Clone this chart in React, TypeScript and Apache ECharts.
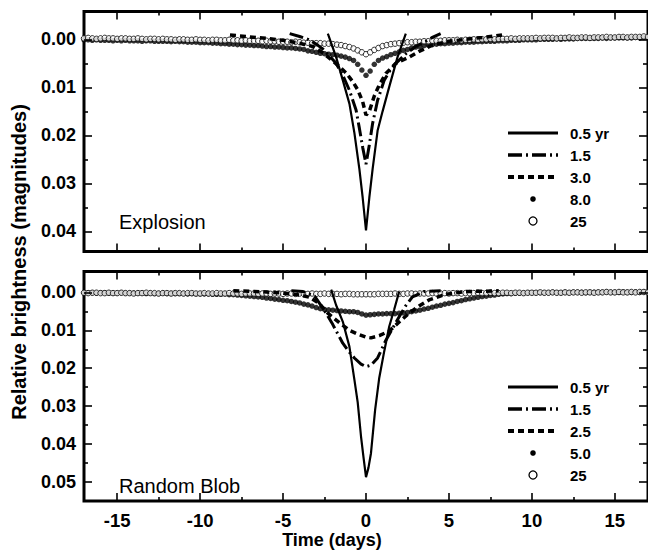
import React, { useEffect, useRef } from "react";
import * as echarts from "echarts";

// ---------- data ----------
const DAYS = [
  -17, -16.75, -16.5, -16.25, -16, -15.75, -15.5, -15.25,
  -15, -14.75, -14.5, -14.25, -14, -13.75, -13.5, -13.25,
  -13, -12.75, -12.5, -12.25, -12, -11.75, -11.5, -11.25,
  -11, -10.75, -10.5, -10.25, -10, -9.75, -9.5, -9.25,
  -9, -8.75, -8.5, -8.25, -8, -7.75, -7.5, -7.25,
  -7, -6.75, -6.5, -6.25, -6, -5.75, -5.5, -5.25,
  -5, -4.75, -4.5, -4.25, -4, -3.75, -3.5, -3.25,
  -3, -2.75, -2.5, -2.25, -2, -1.75, -1.5, -1.25,
  -1, -0.75, -0.5, -0.25, 0, 0.25, 0.5, 0.75,
  1, 1.25, 1.5, 1.75, 2, 2.25, 2.5, 2.75,
  3, 3.25, 3.5, 3.75, 4, 4.25, 4.5, 4.75,
  5, 5.25, 5.5, 5.75, 6, 6.25, 6.5, 6.75,
  7, 7.25, 7.5, 7.75, 8, 8.25, 8.5, 8.75,
  9, 9.25, 9.5, 9.75, 10, 10.25, 10.5, 10.75,
  11, 11.25, 11.5, 11.75, 12, 12.25, 12.5, 12.75,
  13, 13.25, 13.5, 13.75, 14, 14.25, 14.5, 14.75,
  15, 15.25, 15.5, 15.75, 16, 16.25, 16.5, 16.75,
  17,
];

// Explosion panel
const TOP_C25 = [
  -0.0002, -0.0003, -0.0002, -0.0001, -0.0002, -0.0003, -0.0002, -0.0002,
  -0.0001, -0.0002, -0.0002, -0.0001, -0.0001, -0.0002, -0.0001, 0.0,
  -0.0001, -0.0001, 0.0, -0.0001, 0.0, 0.0, 0.0001, 0.0,
  0.0, 0.0001, 0.0001, 0.0, 0.0001, 0.0001, 0.0002, 0.0001,
  0.0001, 0.0002, 0.0002, 0.0001, 0.0002, 0.0002, 0.0003, 0.0002,
  0.0003, 0.0003, 0.0003, 0.0004, 0.0003, 0.0004, 0.0004, 0.0005,
  0.0005, 0.0005, 0.0006, 0.0005, 0.0006, 0.0007, 0.0007, 0.0008,
  0.0008, 0.0008, 0.0009, 0.0009, 0.001, 0.0011, 0.0012, 0.0014,
  0.0016, 0.0019, 0.0023, 0.0027, 0.0031, 0.0027, 0.0022, 0.0018,
  0.0014, 0.0012, 0.001, 0.0009, 0.0008, 0.0007, 0.0006, 0.0006,
  0.0005, 0.0005, 0.0004, 0.0004, 0.0003, 0.0003, 0.0003, 0.0002,
  0.0002, 0.0002, 0.0001, 0.0002, 0.0001, 0.0001, 0.0, 0.0001,
  0.0, 0.0, -0.0001, 0.0, -0.0001, -0.0001, -0.0001, -0.0002,
  -0.0001, -0.0002, -0.0002, -0.0002, -0.0002, -0.0003, -0.0002, -0.0003,
  -0.0003, -0.0003, -0.0002, -0.0003, -0.0003, -0.0004, -0.0003, -0.0003,
  -0.0004, -0.0004, -0.0003, -0.0004, -0.0004, -0.0004, -0.0005, -0.0004,
  -0.0004, -0.0005, -0.0005, -0.0004, -0.0005, -0.0005, -0.0005, -0.0006,
  -0.0005,
];
const TOP_D8 = [
  0.0001, 0.0001, 0.0002, 0.0001, 0.0002, 0.0002, 0.0002, 0.0003,
  0.0002, 0.0003, 0.0002, 0.0003, 0.0003, 0.0003, 0.0004, 0.0003,
  0.0003, 0.0004, 0.0004, 0.0004, 0.0004, 0.0005, 0.0004, 0.0005,
  0.0005, 0.0006, 0.0006, 0.0006, 0.0007, 0.0007, 0.0007, 0.0008,
  0.0008, 0.0009, 0.0009, 0.001, 0.001, 0.0011, 0.0011, 0.0012,
  0.0012, 0.0013, 0.0013, 0.0014, 0.0015, 0.0015, 0.0016, 0.0016,
  0.0017, 0.0018, 0.0018, 0.0019, 0.002, 0.0021, 0.0024, 0.0025,
  0.0027, 0.0029, 0.003, 0.0031, 0.0032, 0.0033, 0.0035, 0.0037,
  0.004, 0.0044, 0.0052, 0.0064, 0.0075, 0.0066, 0.0052, 0.0044,
  0.0039, 0.0036, 0.0032, 0.0029, 0.0026, 0.0023, 0.0021, 0.0018,
  0.0016, 0.0015, 0.0013, 0.0012, 0.0011, 0.001, 0.0009, 0.0009,
  0.0008, 0.0008, 0.0007, 0.0007, 0.0006, 0.0006, 0.0006, 0.0005,
  0.0005, 0.0004, 0.0004, 0.0004, 0.0003, 0.0003, 0.0003, 0.0002,
  0.0002, 0.0002, 0.0001, 0.0001, 0.0001, 0.0001, 0.0, 0.0,
  0.0, 0.0, -0.0001, 0.0, -0.0001, -0.0001, -0.0001, -0.0002,
  -0.0002, -0.0002, -0.0002, -0.0002, -0.0002, -0.0003, -0.0002, -0.0003,
  -0.0003, -0.0003, -0.0003, -0.0003, -0.0003, -0.0004, -0.0003, -0.0004,
  -0.0004,
];
const TOP_S05_T = [-2.3, -1.8, -1.4, -1.0, -0.7, -0.4, -0.2, 0, 0.2, 0.4, 0.7, 1.0, 1.4, 1.9, 2.4];
const TOP_S05 = [-0.0012, 0.0037, 0.0085, 0.0134, 0.0195, 0.027, 0.033, 0.0398, 0.033, 0.027, 0.019, 0.015, 0.0099, 0.0037, -0.0012];
const TOP_DD15_T = [-4.6, -4.0, -3.5, -3.0, -2.6, -2.2, -1.8, -1.4, -1.0, -0.6, -0.4, -0.2, 0, 0.2, 0.4, 0.7, 1.1, 1.5, 1.8, 2.4, 3.0, 3.6, 4.0, 4.5];
const TOP_DD15 = [-0.0012, -0.0006, 0.0, 0.001, 0.002, 0.0035, 0.005, 0.0075, 0.0106, 0.0147, 0.0185, 0.0225, 0.026, 0.022, 0.0175, 0.0127, 0.0085, 0.0062, 0.005, 0.003, 0.0015, 0.0004, -0.0004, -0.0012];
const TOP_DA30_T = [-8.2, -7, -6, -5, -4, -3.2, -2.6, -2.0, -1.6, -1.2, -0.8, -0.5, -0.2, 0, 0.2, 0.5, 0.8, 1.2, 1.8, 2.6, 3.2, 4, 5, 6, 7, 8.2];
const TOP_DA30 = [-0.0009, -0.0005, -0.0002, 0.0002, 0.0008, 0.0015, 0.0028, 0.0045, 0.0057, 0.007, 0.0088, 0.0105, 0.013, 0.0158, 0.015, 0.0118, 0.0095, 0.0071, 0.005, 0.0037, 0.0025, 0.0012, 0.0004, 0.0, -0.0004, -0.0009];

// Random Blob panel
const BOT_C25 = [
  0.0001, 0.0002, 0.0001, 0.0001, 0.0002, 0.0002, 0.0001, 0.0002,
  0.0002, 0.0001, 0.0002, 0.0002, 0.0003, 0.0002, 0.0002, 0.0001,
  0.0002, 0.0002, 0.0003, 0.0002, 0.0002, 0.0003, 0.0002, 0.0002,
  0.0003, 0.0002, 0.0002, 0.0003, 0.0003, 0.0002, 0.0003, 0.0003,
  0.0002, 0.0003, 0.0003, 0.0002, 0.0003, 0.0003, 0.0004, 0.0003,
  0.0003, 0.0003, 0.0004, 0.0003, 0.0003, 0.0004, 0.0003, 0.0003,
  0.0004, 0.0003, 0.0003, 0.0004, 0.0003, 0.0004, 0.0004, 0.0003,
  0.0004, 0.0004, 0.0003, 0.0004, 0.0004, 0.0004, 0.0005, 0.0004,
  0.0004, 0.0005, 0.0005, 0.0005, 0.0005, 0.0005, 0.0005, 0.0004,
  0.0004, 0.0004, 0.0004, 0.0003, 0.0004, 0.0004, 0.0003, 0.0003,
  0.0004, 0.0003, 0.0003, 0.0003, 0.0002, 0.0003, 0.0003, 0.0002,
  0.0003, 0.0002, 0.0002, 0.0003, 0.0002, 0.0002, 0.0002, 0.0001,
  0.0002, 0.0002, 0.0001, 0.0002, 0.0002, 0.0001, 0.0001, 0.0002,
  0.0001, 0.0001, 0.0002, 0.0001, 0.0001, 0.0001, 0.0, 0.0001,
  0.0001, 0.0, 0.0001, 0.0001, 0.0, 0.0001, 0.0, 0.0,
  0.0001, 0.0, 0.0, 0.0001, 0.0, 0.0, -0.0001, 0.0,
  0.0, -0.0001, 0.0, 0.0, -0.0001, 0.0, -0.0001, -0.0001,
  0.0,
];
const BOT_D5 = [
  0.0001, 0.0001, 0.0001, 0.0002, 0.0001, 0.0001, 0.0002, 0.0002,
  0.0002, 0.0001, 0.0002, 0.0002, 0.0002, 0.0002, 0.0002, 0.0003,
  0.0002, 0.0003, 0.0003, 0.0002, 0.0003, 0.0003, 0.0003, 0.0003,
  0.0003, 0.0004, 0.0003, 0.0004, 0.0004, 0.0004, 0.0004, 0.0005,
  0.0005, 0.0005, 0.0004, 0.0006, 0.0006, 0.0007, 0.0008, 0.0009,
  0.001, 0.0011, 0.0012, 0.0013, 0.0015, 0.0016, 0.0018, 0.0019,
  0.0021, 0.0022, 0.0024, 0.0026, 0.0028, 0.0031, 0.0033, 0.0036,
  0.004, 0.0043, 0.0045, 0.0046, 0.0047, 0.0048, 0.0049, 0.005,
  0.0051, 0.0051, 0.0053, 0.0057, 0.006, 0.0059, 0.0058, 0.0057,
  0.0057, 0.0056, 0.0056, 0.0056, 0.0055, 0.0054, 0.0053, 0.0051,
  0.0049, 0.0047, 0.0044, 0.0042, 0.0039, 0.0036, 0.0034, 0.0031,
  0.0029, 0.0027, 0.0024, 0.0022, 0.0019, 0.0017, 0.0015, 0.0013,
  0.0011, 0.001, 0.0008, 0.0007, 0.0005, 0.0004, 0.0003, 0.0003,
  0.0002, 0.0002, 0.0002, 0.0001, 0.0001, 0.0001, 0.0001, 0.0001,
  0.0001, 0.0, 0.0001, 0.0001, 0.0, 0.0001, 0.0, 0.0,
  0.0, 0.0001, 0.0, 0.0, 0.0, 0.0, -0.0001, 0.0,
  0.0, 0.0, -0.0001, 0.0, 0.0, -0.0001, 0.0, -0.0001,
  0.0,
];
const BOT_S05_T = [-2.1, -1.8, -1.4, -1.0, -0.7, -0.5, -0.3, -0.15, 0, 0.15, 0.3, 0.55, 0.8, 1.1, 1.4, 1.7, 2.0];
const BOT_S05 = [-0.0007, 0.0034, 0.0077, 0.0143, 0.023, 0.029, 0.038, 0.0435, 0.0487, 0.0462, 0.0424, 0.031, 0.0225, 0.0155, 0.009, 0.0045, -0.0002];
const BOT_DD15_T = [-4.5, -3.8, -3.1, -2.5, -2.0, -1.4, -1.0, -0.7, -0.3, 0, 0.3, 0.7, 1.2, 1.6, 2.0, 2.4, 2.8, 3.5, 4.5];
const BOT_DD15 = [-0.0004, -0.0002, 0.001, 0.0048, 0.0085, 0.0134, 0.0158, 0.0173, 0.0189, 0.0196, 0.0192, 0.0173, 0.0126, 0.0095, 0.0064, 0.0035, 0.0012, -0.0002, -0.0004];
const BOT_DA25_T = [-8, -7, -6, -5, -4, -3.4, -2.8, -2.3, -1.6, -1.0, -0.5, 0, 0.3, 0.8, 1.4, 2.0, 2.6, 3.2, 3.8, 4.8, 6, 7, 8];
const BOT_DA25 = [-0.0004, -0.0003, -0.0001, 0.0002, 0.0007, 0.0013, 0.003, 0.0055, 0.008, 0.01, 0.011, 0.0118, 0.012, 0.0114, 0.0102, 0.0078, 0.0055, 0.0036, 0.002, 0.0005, -0.0002, -0.0003, -0.0004];

// ticks / labels
const X_MAJOR = [-15, -10, -5, 0, 5, 10, 15];
const X_MINOR = [-12.5, -7.5, -2.5, 2.5, 7.5, 12.5];
const TOP_Y_MAJOR = [0, 0.01, 0.02, 0.03, 0.04];
const TOP_Y_MINOR = [0.005, 0.015, 0.025, 0.035];
const BOT_Y_MAJOR = [0, 0.01, 0.02, 0.03, 0.04, 0.05];
const BOT_Y_MINOR = [0.005, 0.015, 0.025, 0.035, 0.045];
const TOP_LEGEND = ["0.5 yr", "1.5", "3.0", "8.0", "25"];
const BOT_LEGEND = ["0.5 yr", "1.5", "2.5", "5.0", "25"];
const TOP_TITLE = "Explosion";
const BOT_TITLE = "Random Blob";
const X_TITLE = "Time (days)";
const Y_TITLE = "Relative brightness (magnitudes)";

const FONT = '"Liberation Sans", Arial, Helvetica, sans-serif';

const pairs = (xs: number[], ys: number[]) => xs.map((x, i) => [x, ys[i]]);

function xAx(grid: number, pos: string, ticks: number[], len: number, labels: boolean) {
  return {
    type: "value",
    gridIndex: grid,
    position: pos,
    min: -17,
    max: 17,
    z: 10,
    axisLine: { show: false, onZero: false },
    splitLine: { show: false },
    axisTick: { show: true, inside: true, length: len, customValues: ticks, lineStyle: { color: "#000", width: 1.6 } },
    axisLabel: labels
      ? { show: true, customValues: ticks, margin: 10, color: "#000", fontSize: 18.5, fontWeight: "bold", fontFamily: FONT, formatter: (v: number) => String(v) }
      : { show: false },
  };
}

function yAx(grid: number, pos: string, min: number, max: number, ticks: number[], len: number, labels: boolean) {
  return {
    type: "value",
    gridIndex: grid,
    position: pos,
    inverse: true,
    min,
    max,
    z: 10,
    axisLine: { show: false, onZero: false },
    splitLine: { show: false },
    axisTick: { show: true, inside: true, length: len, customValues: ticks, lineStyle: { color: "#000", width: 1.6 } },
    axisLabel: labels
      ? { show: true, customValues: ticks, margin: 8, color: "#000", fontSize: 18, fontWeight: "bold", fontFamily: FONT, formatter: (v: number) => v.toFixed(2) }
      : { show: false },
  };
}

function panelSeries(xi: number, yi: number, c25: number[], dots: number[], s05t: number[], s05: number[], ddt: number[], dd: number[], dat: number[], da: number[]) {
  return [
    {
      type: "scatter", xAxisIndex: xi, yAxisIndex: yi, z: 2,
      symbol: "circle", symbolSize: 5.5, itemStyle: { color: "#000" },
      data: pairs(DAYS, dots),
    },
    {
      type: "scatter", xAxisIndex: xi, yAxisIndex: yi, z: 3,
      symbol: "circle", symbolSize: 5.5, itemStyle: { color: "#fff", borderColor: "#000", borderWidth: 1 },
      data: pairs(DAYS, c25),
    },
    {
      type: "line", xAxisIndex: xi, yAxisIndex: yi, z: 4, showSymbol: false,
      lineStyle: { color: "#000", width: 3.5, type: [6, 4] },
      data: pairs(dat, da),
    },
    {
      type: "line", xAxisIndex: xi, yAxisIndex: yi, z: 5, showSymbol: false,
      lineStyle: { color: "#000", width: 3, type: [14, 4, 2, 4] },
      data: pairs(ddt, dd),
    },
    {
      type: "line", xAxisIndex: xi, yAxisIndex: yi, z: 6, showSymbol: false,
      lineStyle: { color: "#000", width: 2.2 },
      data: pairs(s05t, s05),
    },
  ];
}

function legendEls(ys: number[], labels: string[]) {
  const els: any[] = [];
  const x1 = 508, x2 = 558, xc = 533, tx = 570;
  els.push({ type: "line", shape: { x1, y1: ys[0], x2, y2: ys[0] }, style: { stroke: "#000", lineWidth: 2.8 } });
  els.push({ type: "line", shape: { x1, y1: ys[1], x2, y2: ys[1] }, style: { stroke: "#000", lineWidth: 3.5, lineDash: [14, 4, 2, 4] } });
  els.push({ type: "line", shape: { x1, y1: ys[2], x2, y2: ys[2] }, style: { stroke: "#000", lineWidth: 3.8, lineDash: [6, 4] } });
  els.push({ type: "circle", shape: { cx: xc, cy: ys[3], r: 2.8 }, style: { fill: "#000" } });
  els.push({ type: "circle", shape: { cx: xc, cy: ys[4], r: 4 }, style: { fill: "#fff", stroke: "#000", lineWidth: 1.3 } });
  labels.forEach((t, i) => {
    els.push({
      type: "text", x: tx, y: ys[i],
      style: { text: t, fill: "#000", fontSize: 15, fontWeight: "bold", fontFamily: FONT, textVerticalAlign: "middle" },
    });
  });
  return els;
}

export default function App() {
  const ref = useRef<HTMLDivElement>(null);
  useEffect(() => {
    if (!ref.current) return;
    const chart = echarts.init(ref.current, null, { renderer: "svg" });
    const TOP_MIN = -0.0058, TOP_MAX = 0.0442;
    const BOT_MIN = -0.0055, BOT_MAX = 0.055;
    const option: any = {
      animation: false,
      backgroundColor: "#fff",
      grid: [
        { left: 84, right: -2, top: 11.5, height: 240, show: true, borderWidth: 3, borderColor: "#000", backgroundColor: "transparent" },
        { left: 84, right: -2, top: 271.5, height: 229.5, show: true, borderWidth: 3, borderColor: "#000", backgroundColor: "transparent" },
      ],
      xAxis: [
        xAx(0, "bottom", X_MAJOR, 8, false),
        xAx(0, "bottom", X_MINOR, 4, false),
        xAx(0, "top", X_MAJOR, 8, false),
        xAx(0, "top", X_MINOR, 4, false),
        xAx(1, "bottom", X_MAJOR, 8, true),
        xAx(1, "bottom", X_MINOR, 4, false),
        xAx(1, "top", X_MAJOR, 8, false),
        xAx(1, "top", X_MINOR, 4, false),
      ],
      yAxis: [
        yAx(0, "left", TOP_MIN, TOP_MAX, TOP_Y_MAJOR, 8, true),
        yAx(0, "left", TOP_MIN, TOP_MAX, TOP_Y_MINOR, 4, false),
        yAx(0, "right", TOP_MIN, TOP_MAX, TOP_Y_MAJOR, 9, false),
        yAx(0, "right", TOP_MIN, TOP_MAX, TOP_Y_MINOR, 5, false),
        yAx(1, "left", BOT_MIN, BOT_MAX, BOT_Y_MAJOR, 8, true),
        yAx(1, "left", BOT_MIN, BOT_MAX, BOT_Y_MINOR, 4, false),
        yAx(1, "right", BOT_MIN, BOT_MAX, BOT_Y_MAJOR, 9, false),
        yAx(1, "right", BOT_MIN, BOT_MAX, BOT_Y_MINOR, 5, false),
      ],
      series: [
        ...panelSeries(0, 0, TOP_C25, TOP_D8, TOP_S05_T, TOP_S05, TOP_DD15_T, TOP_DD15, TOP_DA30_T, TOP_DA30),
        ...panelSeries(4, 4, BOT_C25, BOT_D5, BOT_S05_T, BOT_S05, BOT_DD15_T, BOT_DD15, BOT_DA25_T, BOT_DA25),
      ],
      graphic: [
        ...legendEls([133, 155, 177, 199, 221], TOP_LEGEND),
        ...legendEls([387, 409, 431, 453, 475], BOT_LEGEND),
        {
          type: "text", x: 119, y: 222,
          style: { text: TOP_TITLE, fill: "#000", fontSize: 20, fontFamily: FONT, textVerticalAlign: "middle" },
        },
        {
          type: "text", x: 119, y: 486,
          style: { text: BOT_TITLE, fill: "#000", fontSize: 20, fontFamily: FONT, textVerticalAlign: "middle" },
        },
        {
          type: "text", x: 332, y: 540,
          style: { text: X_TITLE, fill: "#000", fontSize: 18, fontWeight: "bold", fontFamily: FONT, textAlign: "center", textVerticalAlign: "middle" },
        },
        {
          type: "text", x: 19, y: 262, rotation: Math.PI / 2,
          style: { text: Y_TITLE, fill: "#000", fontSize: 20, fontWeight: "bold", fontFamily: FONT, textAlign: "center", textVerticalAlign: "middle" },
        },
      ],
    };
    chart.setOption(option);
    return () => chart.dispose();
  }, []);
  return (
    <div
      ref={ref}
      style={{ position: "fixed", left: 0, top: 0, width: 648, height: 554, background: "#fff" }}
    />
  );
}
